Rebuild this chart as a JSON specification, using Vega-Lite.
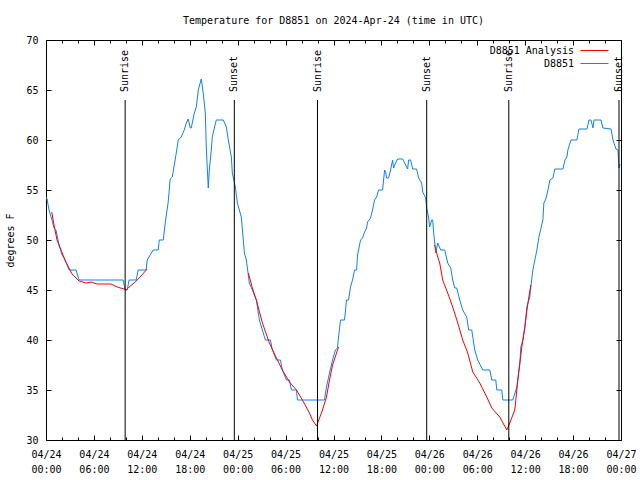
{
  "$schema": "https://vega.github.io/schema/vega-lite/v6.json",
  "width": 575,
  "height": 400,
  "autosize": {"type": "none"},
  "padding": {"left": 46, "top": 40, "right": 19, "bottom": 40},
  "background": "white",
  "config": {
    "font": "DejaVu Sans Mono",
    "view": {"stroke": "black", "strokeWidth": 1},
    "axis": {"grid": false, "domain": false, "labelFont": "DejaVu Sans Mono", "labelFontSize": 10, "labelColor": "black", "tickColor": "black", "titleFont": "DejaVu Sans Mono", "titleFontSize": 10, "titleFontWeight": "normal", "titleColor": "black"},
    "legend": {"labelFont": "DejaVu Sans Mono", "labelFontSize": 10, "labelColor": "black"}
  },
  "title": {"text": "Temperature for D8851 on 2024-Apr-24 (time in UTC)", "font": "DejaVu Sans Mono", "fontSize": 10, "fontWeight": "normal", "color": "black", "anchor": "middle", "offset": 9},
  "datasets": {
    "temps": [
      {"series": "D8851", "seg": "obs", "hour": 0, "temp": 54.3},
      {"series": "D8851", "seg": "obs", "hour": 0.13, "temp": 54.1},
      {"series": "D8851", "seg": "obs", "hour": 0.38, "temp": 53},
      {"series": "D8851", "seg": "obs", "hour": 0.75, "temp": 52},
      {"series": "D8851", "seg": "obs", "hour": 1.0, "temp": 51.2},
      {"series": "D8851", "seg": "obs", "hour": 1.25, "temp": 51},
      {"series": "D8851", "seg": "obs", "hour": 1.63, "temp": 49.5},
      {"series": "D8851", "seg": "obs", "hour": 2.01, "temp": 48.5},
      {"series": "D8851", "seg": "obs", "hour": 2.26, "temp": 48.2},
      {"series": "D8851", "seg": "obs", "hour": 2.63, "temp": 47.5},
      {"series": "D8851", "seg": "obs", "hour": 2.88, "temp": 47},
      {"series": "D8851", "seg": "obs", "hour": 3.76, "temp": 47},
      {"series": "D8851", "seg": "obs", "hour": 4.14, "temp": 46},
      {"series": "D8851", "seg": "obs", "hour": 9.66, "temp": 46},
      {"series": "D8851", "seg": "obs", "hour": 9.91, "temp": 45},
      {"series": "D8851", "seg": "obs", "hour": 10.16, "temp": 45},
      {"series": "D8851", "seg": "obs", "hour": 10.41, "temp": 46},
      {"series": "D8851", "seg": "obs", "hour": 11.29, "temp": 46},
      {"series": "D8851", "seg": "obs", "hour": 11.54, "temp": 47},
      {"series": "D8851", "seg": "obs", "hour": 12.54, "temp": 47},
      {"series": "D8851", "seg": "obs", "hour": 12.67, "temp": 48},
      {"series": "D8851", "seg": "obs", "hour": 13.42, "temp": 49},
      {"series": "D8851", "seg": "obs", "hour": 14.05, "temp": 49},
      {"series": "D8851", "seg": "obs", "hour": 14.18, "temp": 50},
      {"series": "D8851", "seg": "obs", "hour": 14.68, "temp": 50},
      {"series": "D8851", "seg": "obs", "hour": 14.93, "temp": 51.7},
      {"series": "D8851", "seg": "obs", "hour": 15.3, "temp": 53.8},
      {"series": "D8851", "seg": "obs", "hour": 15.55, "temp": 56.1},
      {"series": "D8851", "seg": "obs", "hour": 15.81, "temp": 56.3},
      {"series": "D8851", "seg": "obs", "hour": 16.31, "temp": 58.7},
      {"series": "D8851", "seg": "obs", "hour": 16.56, "temp": 60},
      {"series": "D8851", "seg": "obs", "hour": 16.93, "temp": 60.3},
      {"series": "D8851", "seg": "obs", "hour": 17.31, "temp": 61},
      {"series": "D8851", "seg": "obs", "hour": 17.56, "temp": 61.7},
      {"series": "D8851", "seg": "obs", "hour": 17.81, "temp": 62.1},
      {"series": "D8851", "seg": "obs", "hour": 18.06, "temp": 61.2},
      {"series": "D8851", "seg": "obs", "hour": 18.19, "temp": 61.2},
      {"series": "D8851", "seg": "obs", "hour": 18.57, "temp": 62.7},
      {"series": "D8851", "seg": "obs", "hour": 18.82, "temp": 63.3},
      {"series": "D8851", "seg": "obs", "hour": 19.07, "temp": 65},
      {"series": "D8851", "seg": "obs", "hour": 19.44, "temp": 66.1},
      {"series": "D8851", "seg": "obs", "hour": 19.69, "temp": 64.7},
      {"series": "D8851", "seg": "obs", "hour": 19.95, "temp": 62.7},
      {"series": "D8851", "seg": "obs", "hour": 20.07, "temp": 59.3},
      {"series": "D8851", "seg": "obs", "hour": 20.32, "temp": 55.2},
      {"series": "D8851", "seg": "obs", "hour": 20.45, "temp": 57},
      {"series": "D8851", "seg": "obs", "hour": 20.7, "temp": 59},
      {"series": "D8851", "seg": "obs", "hour": 20.82, "temp": 60.3},
      {"series": "D8851", "seg": "obs", "hour": 21.32, "temp": 62},
      {"series": "D8851", "seg": "obs", "hour": 22.2, "temp": 62},
      {"series": "D8851", "seg": "obs", "hour": 22.58, "temp": 61.3},
      {"series": "D8851", "seg": "obs", "hour": 22.83, "temp": 60},
      {"series": "D8851", "seg": "obs", "hour": 23.21, "temp": 58.3},
      {"series": "D8851", "seg": "obs", "hour": 23.33, "temp": 56.7},
      {"series": "D8851", "seg": "obs", "hour": 23.71, "temp": 55.3},
      {"series": "D8851", "seg": "obs", "hour": 23.96, "temp": 53.7},
      {"series": "D8851", "seg": "obs", "hour": 24.46, "temp": 52.3},
      {"series": "D8851", "seg": "obs", "hour": 24.84, "temp": 48.7},
      {"series": "D8851", "seg": "obs", "hour": 25.09, "temp": 48},
      {"series": "D8851", "seg": "obs", "hour": 25.46, "temp": 45.7},
      {"series": "D8851", "seg": "obs", "hour": 25.84, "temp": 45},
      {"series": "D8851", "seg": "obs", "hour": 26.34, "temp": 44},
      {"series": "D8851", "seg": "obs", "hour": 26.72, "temp": 42},
      {"series": "D8851", "seg": "obs", "hour": 27.47, "temp": 40},
      {"series": "D8851", "seg": "obs", "hour": 28.1, "temp": 40},
      {"series": "D8851", "seg": "obs", "hour": 28.35, "temp": 39},
      {"series": "D8851", "seg": "obs", "hour": 28.85, "temp": 38},
      {"series": "D8851", "seg": "obs", "hour": 29.35, "temp": 38},
      {"series": "D8851", "seg": "obs", "hour": 29.6, "temp": 37},
      {"series": "D8851", "seg": "obs", "hour": 30.11, "temp": 36},
      {"series": "D8851", "seg": "obs", "hour": 30.48, "temp": 36},
      {"series": "D8851", "seg": "obs", "hour": 30.73, "temp": 35},
      {"series": "D8851", "seg": "obs", "hour": 31.36, "temp": 35},
      {"series": "D8851", "seg": "obs", "hour": 31.49, "temp": 34},
      {"series": "D8851", "seg": "obs", "hour": 34.87, "temp": 34},
      {"series": "D8851", "seg": "obs", "hour": 35.12, "temp": 35.3},
      {"series": "D8851", "seg": "obs", "hour": 35.5, "temp": 36.7},
      {"series": "D8851", "seg": "obs", "hour": 35.88, "temp": 38},
      {"series": "D8851", "seg": "obs", "hour": 36.25, "temp": 39},
      {"series": "D8851", "seg": "obs", "hour": 36.5, "temp": 39.2},
      {"series": "D8851", "seg": "obs", "hour": 36.63, "temp": 40.3},
      {"series": "D8851", "seg": "obs", "hour": 36.88, "temp": 42},
      {"series": "D8851", "seg": "obs", "hour": 37.38, "temp": 42},
      {"series": "D8851", "seg": "obs", "hour": 37.63, "temp": 44},
      {"series": "D8851", "seg": "obs", "hour": 37.88, "temp": 44},
      {"series": "D8851", "seg": "obs", "hour": 38.13, "temp": 45.3},
      {"series": "D8851", "seg": "obs", "hour": 38.38, "temp": 46},
      {"series": "D8851", "seg": "obs", "hour": 38.64, "temp": 47},
      {"series": "D8851", "seg": "obs", "hour": 38.89, "temp": 47},
      {"series": "D8851", "seg": "obs", "hour": 39.01, "temp": 48.5},
      {"series": "D8851", "seg": "obs", "hour": 39.39, "temp": 50},
      {"series": "D8851", "seg": "obs", "hour": 39.64, "temp": 50.2},
      {"series": "D8851", "seg": "obs", "hour": 39.89, "temp": 50.8},
      {"series": "D8851", "seg": "obs", "hour": 40.14, "temp": 51.2},
      {"series": "D8851", "seg": "obs", "hour": 40.27, "temp": 51.8},
      {"series": "D8851", "seg": "obs", "hour": 40.64, "temp": 52.2},
      {"series": "D8851", "seg": "obs", "hour": 40.89, "temp": 53},
      {"series": "D8851", "seg": "obs", "hour": 41.14, "temp": 54},
      {"series": "D8851", "seg": "obs", "hour": 41.4, "temp": 54.3},
      {"series": "D8851", "seg": "obs", "hour": 41.65, "temp": 55},
      {"series": "D8851", "seg": "obs", "hour": 42.15, "temp": 55},
      {"series": "D8851", "seg": "obs", "hour": 42.27, "temp": 56},
      {"series": "D8851", "seg": "obs", "hour": 42.4, "temp": 57},
      {"series": "D8851", "seg": "obs", "hour": 42.52, "temp": 56.8},
      {"series": "D8851", "seg": "obs", "hour": 42.65, "temp": 56.2},
      {"series": "D8851", "seg": "obs", "hour": 42.9, "temp": 56.2},
      {"series": "D8851", "seg": "obs", "hour": 43.15, "temp": 57},
      {"series": "D8851", "seg": "obs", "hour": 43.4, "temp": 58},
      {"series": "D8851", "seg": "obs", "hour": 43.53, "temp": 57.2},
      {"series": "D8851", "seg": "obs", "hour": 43.78, "temp": 57.7},
      {"series": "D8851", "seg": "obs", "hour": 44.03, "temp": 58.1},
      {"series": "D8851", "seg": "obs", "hour": 44.66, "temp": 58.1},
      {"series": "D8851", "seg": "obs", "hour": 45.03, "temp": 57.5},
      {"series": "D8851", "seg": "obs", "hour": 45.28, "temp": 57.1},
      {"series": "D8851", "seg": "obs", "hour": 45.41, "temp": 58},
      {"series": "D8851", "seg": "obs", "hour": 45.66, "temp": 58},
      {"series": "D8851", "seg": "obs", "hour": 45.91, "temp": 57.1},
      {"series": "D8851", "seg": "obs", "hour": 46.41, "temp": 57.1},
      {"series": "D8851", "seg": "obs", "hour": 46.66, "temp": 56.2},
      {"series": "D8851", "seg": "obs", "hour": 47.04, "temp": 55.7},
      {"series": "D8851", "seg": "obs", "hour": 47.17, "temp": 54.8},
      {"series": "D8851", "seg": "obs", "hour": 47.54, "temp": 54.2},
      {"series": "D8851", "seg": "obs", "hour": 47.67, "temp": 53.2},
      {"series": "D8851", "seg": "obs", "hour": 47.92, "temp": 52.2},
      {"series": "D8851", "seg": "obs", "hour": 48.04, "temp": 51.3},
      {"series": "D8851", "seg": "obs", "hour": 48.3, "temp": 52},
      {"series": "D8851", "seg": "obs", "hour": 48.42, "temp": 52},
      {"series": "D8851", "seg": "obs", "hour": 48.55, "temp": 50.7},
      {"series": "D8851", "seg": "obs", "hour": 48.8, "temp": 48.7},
      {"series": "D8851", "seg": "obs", "hour": 49.05, "temp": 49.7},
      {"series": "D8851", "seg": "obs", "hour": 49.42, "temp": 49},
      {"series": "D8851", "seg": "obs", "hour": 49.93, "temp": 49},
      {"series": "D8851", "seg": "obs", "hour": 50.3, "temp": 47.7},
      {"series": "D8851", "seg": "obs", "hour": 50.68, "temp": 47.2},
      {"series": "D8851", "seg": "obs", "hour": 50.93, "temp": 46},
      {"series": "D8851", "seg": "obs", "hour": 51.18, "temp": 45.2},
      {"series": "D8851", "seg": "obs", "hour": 51.43, "temp": 45.2},
      {"series": "D8851", "seg": "obs", "hour": 51.81, "temp": 44},
      {"series": "D8851", "seg": "obs", "hour": 52.18, "temp": 43},
      {"series": "D8851", "seg": "obs", "hour": 52.68, "temp": 42.3},
      {"series": "D8851", "seg": "obs", "hour": 52.93, "temp": 41},
      {"series": "D8851", "seg": "obs", "hour": 53.31, "temp": 41},
      {"series": "D8851", "seg": "obs", "hour": 53.69, "temp": 39},
      {"series": "D8851", "seg": "obs", "hour": 54.06, "temp": 38},
      {"series": "D8851", "seg": "obs", "hour": 54.69, "temp": 37},
      {"series": "D8851", "seg": "obs", "hour": 55.57, "temp": 37},
      {"series": "D8851", "seg": "obs", "hour": 55.82, "temp": 36},
      {"series": "D8851", "seg": "obs", "hour": 56.32, "temp": 36},
      {"series": "D8851", "seg": "obs", "hour": 56.45, "temp": 35},
      {"series": "D8851", "seg": "obs", "hour": 57.07, "temp": 35},
      {"series": "D8851", "seg": "obs", "hour": 57.2, "temp": 34},
      {"series": "D8851", "seg": "obs", "hour": 58.45, "temp": 34},
      {"series": "D8851", "seg": "obs", "hour": 58.96, "temp": 35.3},
      {"series": "D8851", "seg": "obs", "hour": 59.33, "temp": 37.7},
      {"series": "D8851", "seg": "obs", "hour": 59.46, "temp": 39.3},
      {"series": "D8851", "seg": "obs", "hour": 59.71, "temp": 40},
      {"series": "D8851", "seg": "obs", "hour": 59.96, "temp": 41.3},
      {"series": "D8851", "seg": "obs", "hour": 60.21, "temp": 43.3},
      {"series": "D8851", "seg": "obs", "hour": 60.58, "temp": 44.3},
      {"series": "D8851", "seg": "obs", "hour": 60.71, "temp": 45.3},
      {"series": "D8851", "seg": "obs", "hour": 60.96, "temp": 47},
      {"series": "D8851", "seg": "obs", "hour": 61.47, "temp": 49},
      {"series": "D8851", "seg": "obs", "hour": 61.72, "temp": 50.3},
      {"series": "D8851", "seg": "obs", "hour": 62.22, "temp": 52},
      {"series": "D8851", "seg": "obs", "hour": 62.34, "temp": 53.7},
      {"series": "D8851", "seg": "obs", "hour": 62.59, "temp": 54.1},
      {"series": "D8851", "seg": "obs", "hour": 62.85, "temp": 55},
      {"series": "D8851", "seg": "obs", "hour": 63.1, "temp": 56},
      {"series": "D8851", "seg": "obs", "hour": 63.47, "temp": 56.2},
      {"series": "D8851", "seg": "obs", "hour": 63.72, "temp": 57.1},
      {"series": "D8851", "seg": "obs", "hour": 64.73, "temp": 57.1},
      {"series": "D8851", "seg": "obs", "hour": 64.98, "temp": 58},
      {"series": "D8851", "seg": "obs", "hour": 65.23, "temp": 58.3},
      {"series": "D8851", "seg": "obs", "hour": 65.35, "temp": 59},
      {"series": "D8851", "seg": "obs", "hour": 65.73, "temp": 60},
      {"series": "D8851", "seg": "obs", "hour": 66.48, "temp": 60},
      {"series": "D8851", "seg": "obs", "hour": 66.73, "temp": 61.1},
      {"series": "D8851", "seg": "obs", "hour": 67.74, "temp": 61.1},
      {"series": "D8851", "seg": "obs", "hour": 67.99, "temp": 62},
      {"series": "D8851", "seg": "obs", "hour": 68.24, "temp": 62},
      {"series": "D8851", "seg": "obs", "hour": 68.49, "temp": 61.2},
      {"series": "D8851", "seg": "obs", "hour": 68.62, "temp": 62},
      {"series": "D8851", "seg": "obs", "hour": 69.49, "temp": 62},
      {"series": "D8851", "seg": "obs", "hour": 69.74, "temp": 61.2},
      {"series": "D8851", "seg": "obs", "hour": 70.75, "temp": 61.1},
      {"series": "D8851", "seg": "obs", "hour": 71.0, "temp": 60},
      {"series": "D8851", "seg": "obs", "hour": 71.37, "temp": 59.1},
      {"series": "D8851", "seg": "obs", "hour": 71.62, "temp": 59},
      {"series": "D8851", "seg": "obs", "hour": 71.75, "temp": 57.2},
      {"series": "D8851", "seg": "obs", "hour": 71.88, "temp": 57.6},
      {"series": "D8851 Analysis", "seg": "a1", "hour": 0.72, "temp": 52.8},
      {"series": "D8851 Analysis", "seg": "a1", "hour": 1.0, "temp": 51.5},
      {"series": "D8851 Analysis", "seg": "a1", "hour": 1.38, "temp": 50},
      {"series": "D8851 Analysis", "seg": "a1", "hour": 1.88, "temp": 49},
      {"series": "D8851 Analysis", "seg": "a1", "hour": 2.38, "temp": 48},
      {"series": "D8851 Analysis", "seg": "a1", "hour": 2.88, "temp": 47.2},
      {"series": "D8851 Analysis", "seg": "a1", "hour": 3.26, "temp": 46.6},
      {"series": "D8851 Analysis", "seg": "a1", "hour": 4.14, "temp": 45.9},
      {"series": "D8851 Analysis", "seg": "a1", "hour": 5.02, "temp": 45.7},
      {"series": "D8851 Analysis", "seg": "a1", "hour": 5.64, "temp": 45.8},
      {"series": "D8851 Analysis", "seg": "a1", "hour": 6.4, "temp": 45.6},
      {"series": "D8851 Analysis", "seg": "a1", "hour": 8.15, "temp": 45.6},
      {"series": "D8851 Analysis", "seg": "a1", "hour": 8.91, "temp": 45.3},
      {"series": "D8851 Analysis", "seg": "a1", "hour": 9.78, "temp": 45.1},
      {"series": "D8851 Analysis", "seg": "a1", "hour": 10.04, "temp": 45.0},
      {"series": "D8851 Analysis", "seg": "a1", "hour": 10.41, "temp": 45.3},
      {"series": "D8851 Analysis", "seg": "a1", "hour": 11.04, "temp": 45.7},
      {"series": "D8851 Analysis", "seg": "a1", "hour": 11.67, "temp": 46.2},
      {"series": "D8851 Analysis", "seg": "a1", "hour": 12.67, "temp": 47.1},
      {"series": "D8851 Analysis", "seg": "a2", "hour": 25.34, "temp": 46.7},
      {"series": "D8851 Analysis", "seg": "a2", "hour": 25.84, "temp": 45.2},
      {"series": "D8851 Analysis", "seg": "a2", "hour": 26.34, "temp": 44},
      {"series": "D8851 Analysis", "seg": "a2", "hour": 27.1, "temp": 41.7},
      {"series": "D8851 Analysis", "seg": "a2", "hour": 27.97, "temp": 39.7},
      {"series": "D8851 Analysis", "seg": "a2", "hour": 28.85, "temp": 38.2},
      {"series": "D8851 Analysis", "seg": "a2", "hour": 29.6, "temp": 37},
      {"series": "D8851 Analysis", "seg": "a2", "hour": 30.48, "temp": 35.8},
      {"series": "D8851 Analysis", "seg": "a2", "hour": 31.36, "temp": 35},
      {"series": "D8851 Analysis", "seg": "a2", "hour": 32.11, "temp": 34},
      {"series": "D8851 Analysis", "seg": "a2", "hour": 32.99, "temp": 32.7},
      {"series": "D8851 Analysis", "seg": "a2", "hour": 33.37, "temp": 32},
      {"series": "D8851 Analysis", "seg": "a2", "hour": 33.87, "temp": 31.4},
      {"series": "D8851 Analysis", "seg": "a2", "hour": 34.25, "temp": 32.2},
      {"series": "D8851 Analysis", "seg": "a2", "hour": 34.62, "temp": 33},
      {"series": "D8851 Analysis", "seg": "a2", "hour": 35.12, "temp": 34.3},
      {"series": "D8851 Analysis", "seg": "a2", "hour": 35.5, "temp": 36},
      {"series": "D8851 Analysis", "seg": "a2", "hour": 35.88, "temp": 37.5},
      {"series": "D8851 Analysis", "seg": "a2", "hour": 36.38, "temp": 38.7},
      {"series": "D8851 Analysis", "seg": "a2", "hour": 36.63, "temp": 39.3},
      {"series": "D8851 Analysis", "seg": "a3", "hour": 48.67, "temp": 49.5},
      {"series": "D8851 Analysis", "seg": "a3", "hour": 49.05, "temp": 48.3},
      {"series": "D8851 Analysis", "seg": "a3", "hour": 49.3, "temp": 47.7},
      {"series": "D8851 Analysis", "seg": "a3", "hour": 49.67, "temp": 46},
      {"series": "D8851 Analysis", "seg": "a3", "hour": 50.3, "temp": 44.7},
      {"series": "D8851 Analysis", "seg": "a3", "hour": 50.93, "temp": 43.3},
      {"series": "D8851 Analysis", "seg": "a3", "hour": 51.56, "temp": 41.7},
      {"series": "D8851 Analysis", "seg": "a3", "hour": 52.18, "temp": 40},
      {"series": "D8851 Analysis", "seg": "a3", "hour": 52.81, "temp": 38.7},
      {"series": "D8851 Analysis", "seg": "a3", "hour": 53.44, "temp": 36.8},
      {"series": "D8851 Analysis", "seg": "a3", "hour": 54.32, "temp": 35.7},
      {"series": "D8851 Analysis", "seg": "a3", "hour": 55.19, "temp": 34.3},
      {"series": "D8851 Analysis", "seg": "a3", "hour": 55.82, "temp": 33.2},
      {"series": "D8851 Analysis", "seg": "a3", "hour": 56.82, "temp": 32.3},
      {"series": "D8851 Analysis", "seg": "a3", "hour": 57.7, "temp": 31},
      {"series": "D8851 Analysis", "seg": "a3", "hour": 58.07, "temp": 31.7},
      {"series": "D8851 Analysis", "seg": "a3", "hour": 58.7, "temp": 33},
      {"series": "D8851 Analysis", "seg": "a3", "hour": 59.08, "temp": 36},
      {"series": "D8851 Analysis", "seg": "a3", "hour": 59.58, "temp": 39.3},
      {"series": "D8851 Analysis", "seg": "a3", "hour": 59.96, "temp": 41.3},
      {"series": "D8851 Analysis", "seg": "a3", "hour": 60.34, "temp": 43.7},
      {"series": "D8851 Analysis", "seg": "a3", "hour": 60.71, "temp": 45.5}
    ],
    "sun": [
      {"hour": 9.91, "event": "Sunrise"},
      {"hour": 23.58, "event": "Sunset"},
      {"hour": 34.0, "event": "Sunrise"},
      {"hour": 47.67, "event": "Sunset"},
      {"hour": 57.95, "event": "Sunrise"},
      {"hour": 71.75, "event": "Sunset"}
    ]
  },
  "resolve": {"axis": {"x": "independent", "y": "independent"}},
  "layer": [
    {
      "data": {"name": "temps"},
      "mark": {"type": "line", "strokeWidth": 1, "clip": true},
      "encoding": {
        "x": {"field": "hour", "type": "quantitative", "scale": {"domain": [0, 72], "nice": false, "zero": false},
          "axis": {"orient": "bottom", "title": null, "values": [0,2,4,6,8,10,12,14,16,18,20,22,24,26,28,30,32,34,36,38,40,42,44,46,48,50,52,54,56,58,60,62,64,66,68,70,72],
            "tickSize": {"condition": {"test": "datum.value % 6 == 0", "value": -5}, "value": -3},
            "labelExpr": "datum.value % 6 == 0 ? ['04/' + (24 + floor(datum.value / 24)), (datum.value % 24 < 10 ? '0' : '') + (datum.value % 24) + ':00'] : ''",
            "labelPadding": 14, "labelLineHeight": 15, "labelFlush": false, "labelOverlap": false, "labelBaseline": "top"}},
        "y": {"field": "temp", "type": "quantitative", "scale": {"domain": [30, 70], "nice": false, "zero": false},
          "axis": {"orient": "left", "title": "degrees F", "values": [30,35,40,45,50,55,60,65,70], "tickSize": -5, "labelPadding": 13, "titlePadding": 10}},
        "color": {"field": "series", "type": "nominal",
          "scale": {"domain": ["D8851 Analysis", "D8851"], "range": ["#ff0000", "#0f80ff"]},
          "legend": {"title": null, "orient": "none", "legendX": 541, "legendY": 3, "symbolType": "M-2,0H2", "symbolSize": 196, "symbolStrokeWidth": 1, "symbolFillColor": "transparent", "labelAlign": "right", "labelOffset": -28, "rowPadding": -1, "symbolOpacity": 1}},
        "detail": {"field": "seg"}
      }
    },
    {
      "data": {"name": "sun"},
      "mark": {"type": "rule", "color": "black", "strokeWidth": 1},
      "encoding": {
        "x": {"field": "hour", "type": "quantitative", "axis": {"orient": "top", "title": null, "labels": false, "values": [0,2,4,6,8,10,12,14,16,18,20,22,24,26,28,30,32,34,36,38,40,42,44,46,48,50,52,54,56,58,60,62,64,66,68,70,72],
            "tickSize": {"condition": {"test": "datum.value % 6 == 0", "value": -5}, "value": -3}}},
        "y": {"datum": 30, "type": "quantitative", "axis": {"orient": "right", "title": null, "labels": false, "values": [30,35,40,45,50,55,60,65,70], "tickSize": -5}},
        "y2": {"datum": 64}
      }
    },
    {
      "data": {"name": "sun"},
      "mark": {"type": "text", "angle": 270, "align": "left", "baseline": "middle", "font": "DejaVu Sans Mono", "fontSize": 10, "color": "black"},
      "encoding": {
        "x": {"field": "hour", "type": "quantitative", "axis": null},
        "y": {"datum": 64.8, "type": "quantitative", "axis": null},
        "text": {"field": "event"}
      }
    }
  ]
}
